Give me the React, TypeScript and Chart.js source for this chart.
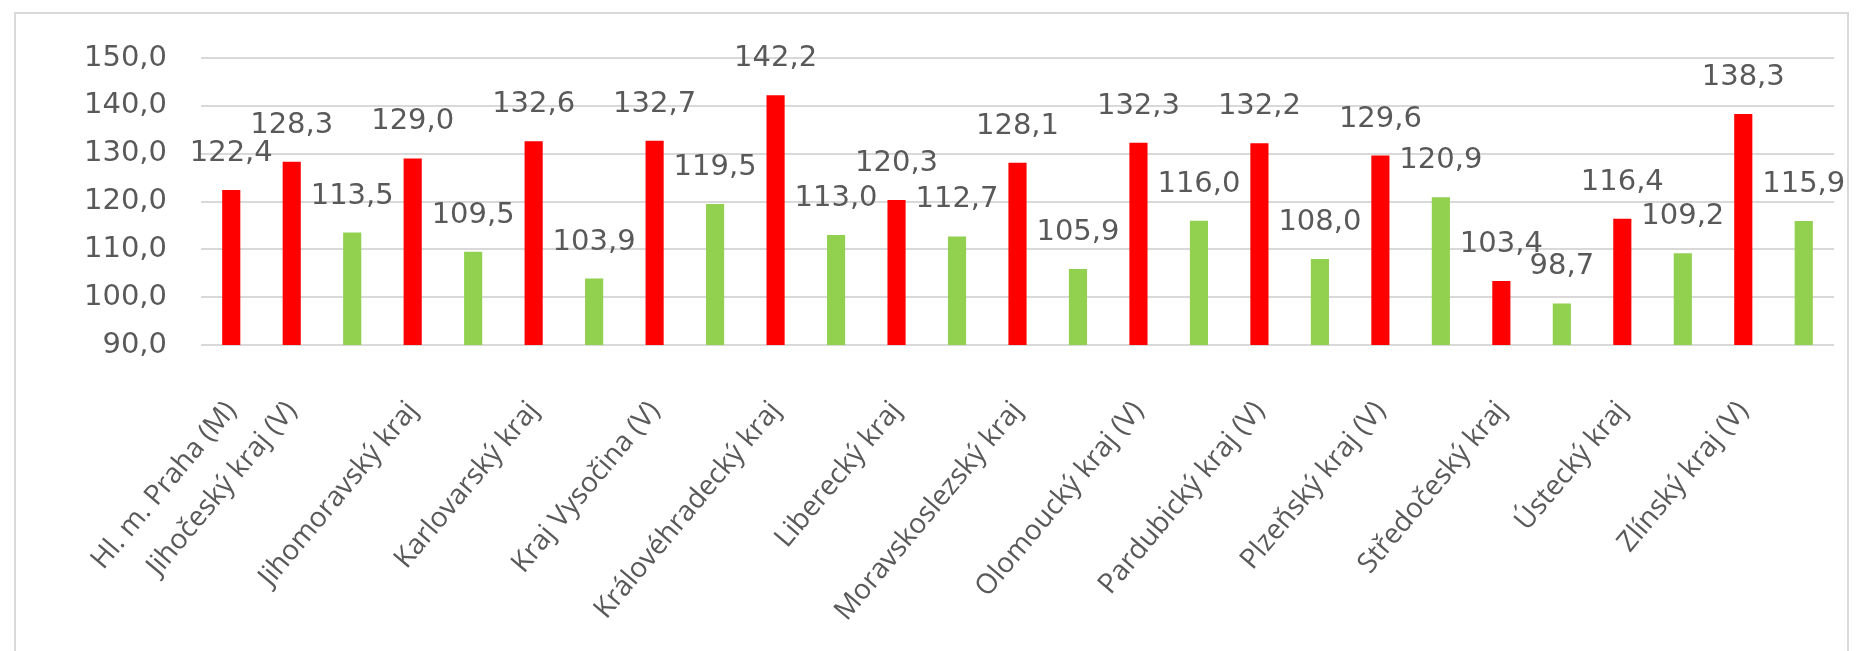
import React, { useEffect, useRef } from "react";
import { Chart, registerables } from "chart.js";

Chart.register(...registerables);

const categories = [
  "Hl. m. Praha (M)",
  "Jihočeský kraj (V)",
  "",
  "Jihomoravský kraj",
  "",
  "Karlovarský kraj",
  "",
  "Kraj Vysočina (V)",
  "",
  "Královéhradecký kraj",
  "",
  "Liberecký kraj",
  "",
  "Moravskoslezský kraj",
  "",
  "Olomoucký kraj (V)",
  "",
  "Pardubický kraj (V)",
  "",
  "Plzeňský kraj (V)",
  "",
  "Středočeský kraj",
  "",
  "Ústecký kraj",
  "",
  "Zlínský kraj (V)",
  "",
];

const redValues = [
  122.4, 128.3, null, 129.0, null, 132.6, null, 132.7, null, 142.2, null, 120.3, null, 128.1,
  null, 132.3, null, 132.2, null, 129.6, null, 103.4, null, 116.4, null, 138.3, null,
];

const greenValues = [
  null, null, 113.5, null, 109.5, null, 103.9, null, 119.5, null, 113.0, null, 112.7, null,
  105.9, null, 116.0, null, 108.0, null, 120.9, null, 98.7, null, 109.2, null, 115.9,
];

const yMin = 90;
const yMax = 150;
const yStep = 10;

const FONT = "'Open Sans', 'DejaVu Sans', sans-serif";
const NUM_FONT = "'DejaVu Sans', 'Open Sans', sans-serif";
const TEXT = "#595959";

const fmt = (v: number) => v.toFixed(1).replace(".", ",");

const framePlugin = {
  id: "frame",
  beforeDraw(chart: any) {
    const ctx = chart.ctx;
    ctx.save();
    ctx.fillStyle = "#ffffff";
    ctx.fillRect(0, 0, chart.width, chart.height);
    ctx.strokeStyle = "#d9d9d9";
    ctx.lineWidth = 2;
    ctx.strokeRect(15, 13, 1833, chart.height + 40);
    ctx.restore();
  },
};

const valueLabelPlugin = {
  id: "valueLabels",
  afterDatasetsDraw(chart: any) {
    const ctx = chart.ctx;
    ctx.save();
    ctx.font = `29px ${NUM_FONT}`;
    ctx.fillStyle = TEXT;
    ctx.textAlign = "center";
    ctx.textBaseline = "alphabetic";
    chart.data.datasets.forEach((ds: any, di: number) => {
      const meta = chart.getDatasetMeta(di);
      meta.data.forEach((el: any, i: number) => {
        const v = ds.data[i];
        if (v === null || v === undefined) return;
        ctx.fillText(fmt(v), el.x, el.y - 29);
      });
    });
    ctx.restore();
  },
};

export default function App() {
  const ref = useRef<HTMLCanvasElement | null>(null);

  useEffect(() => {
    if (!ref.current) return;
    const chart = new Chart(ref.current, {
      type: "bar",
      data: {
        labels: categories,
        datasets: [
          {
            label: "red",
            data: redValues,
            backgroundColor: "#ff0000",
            categoryPercentage: 0.6,
            barPercentage: 0.5,
            grouped: false,
          } as any,
          {
            label: "green",
            data: greenValues,
            backgroundColor: "#92d050",
            categoryPercentage: 0.6,
            barPercentage: 0.5,
            grouped: false,
          } as any,
        ],
      },
      options: {
        animation: false,
        responsive: true,
        maintainAspectRatio: false,
        layout: { padding: { top: 58, right: 29, left: 0, bottom: 0 } },
        plugins: {
          legend: { display: false },
          tooltip: { enabled: false },
        },
        scales: {
          x: {
            grid: { display: false, drawTicks: false },
            border: { display: false },
            ticks: {
              autoSkip: false,
              maxRotation: 50,
              minRotation: 50,
              padding: 50,
              color: TEXT,
              font: { family: FONT, size: 28 },
            },
            afterFit: (scale: any) => {
              scale.height = 306;
              scale.paddingRight = 0;
              scale.paddingLeft = 0;
            },
          },
          y: {
            min: yMin,
            max: yMax,
            ticks: {
              stepSize: yStep,
              padding: 34,
              color: TEXT,
              font: { family: NUM_FONT, size: 29 },
              callback: (v: any) => fmt(Number(v)),
            },
            grid: { color: "#d9d9d9", lineWidth: 2, drawTicks: false },
            border: { display: false },
            afterFit: (scale: any) => {
              scale.width = 201;
            },
          },
        },
      },
      plugins: [framePlugin, valueLabelPlugin],
    });
    return () => chart.destroy();
  }, []);

  return (
    <div style={{ position: "fixed", left: 0, top: 0, width: 1863, height: 651 }}>
      <canvas ref={ref} style={{ display: "block" }} />
    </div>
  );
}
